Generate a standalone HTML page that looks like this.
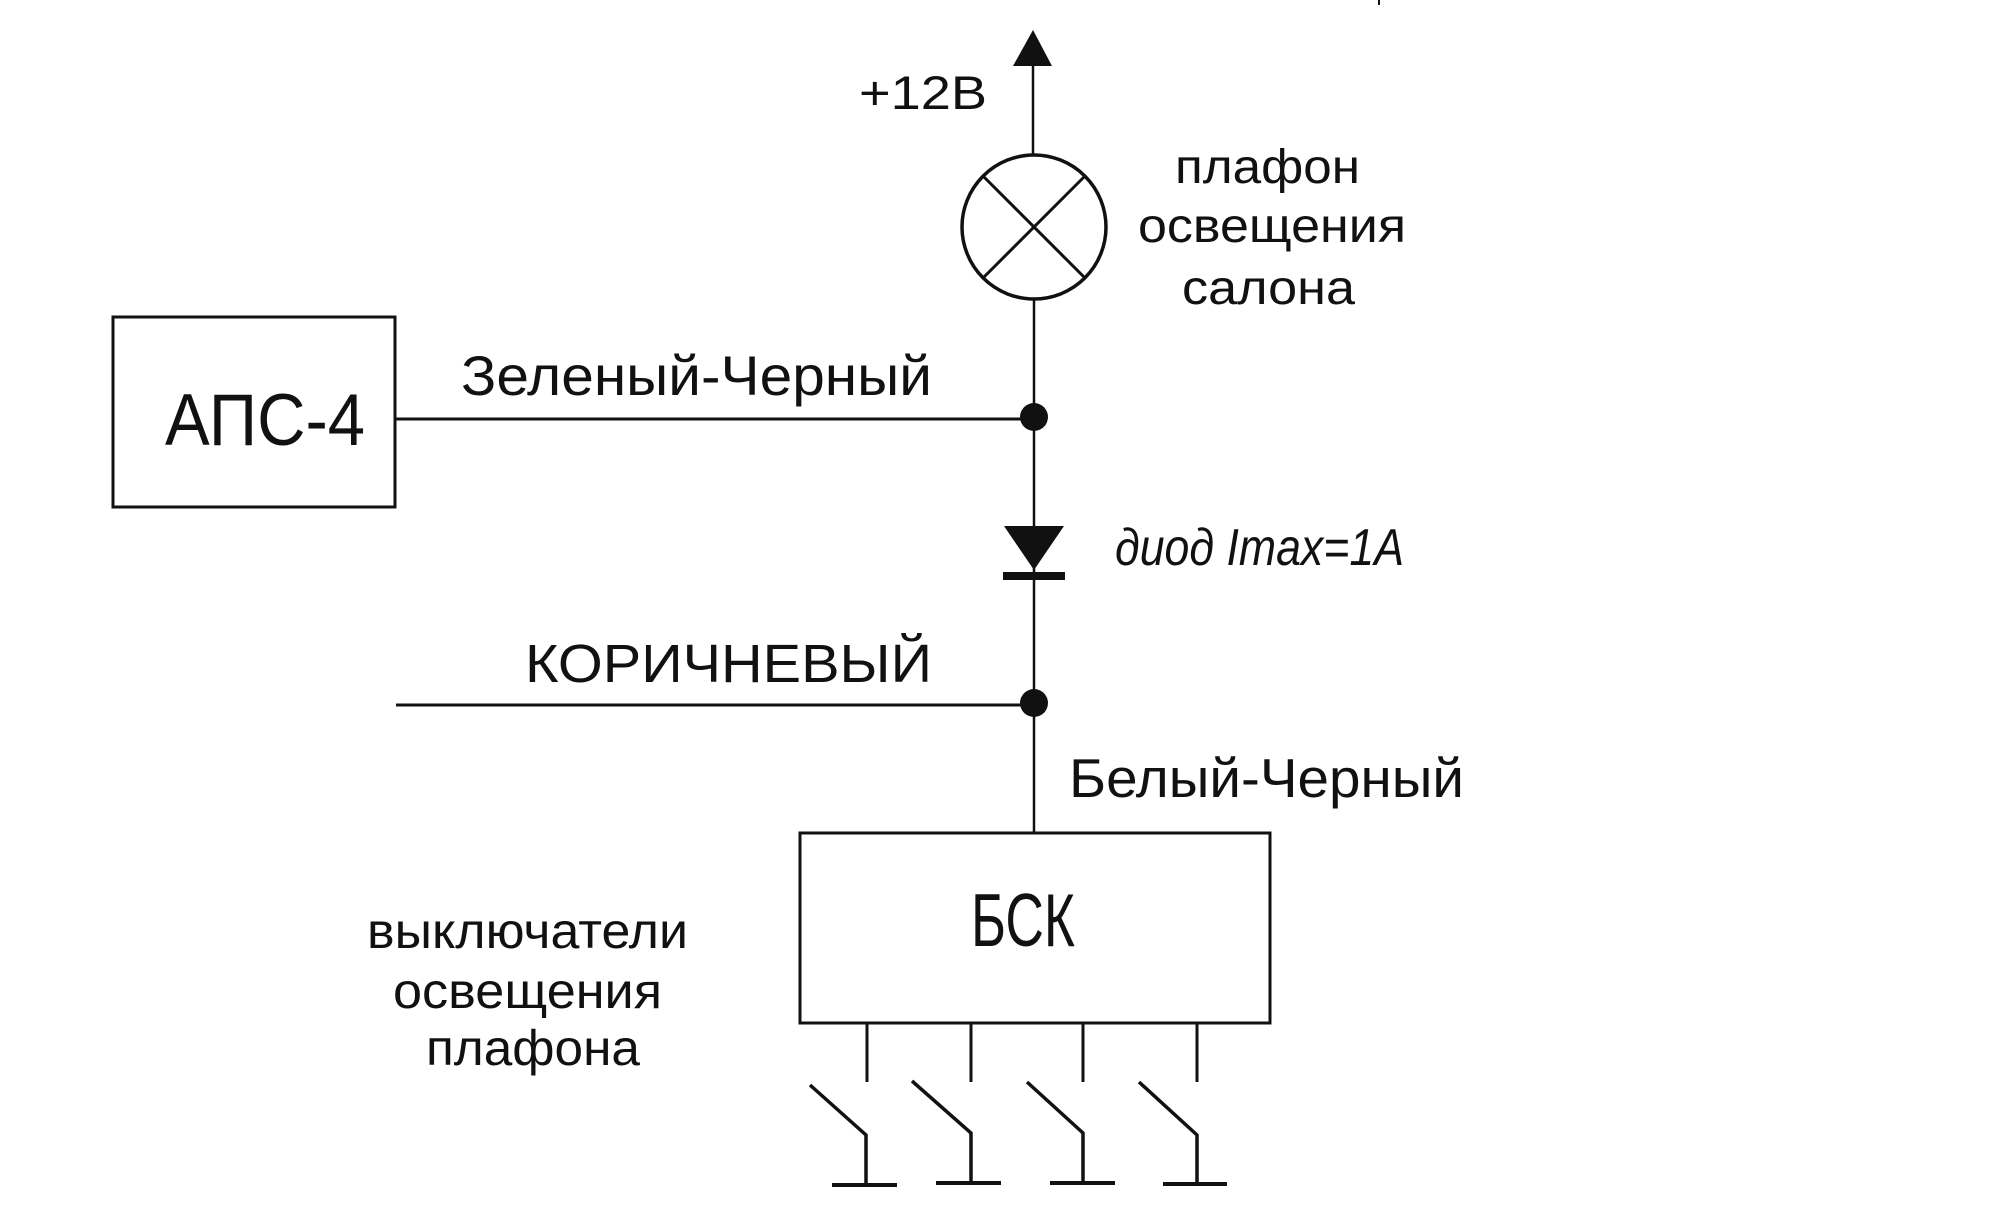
<!DOCTYPE html>
<html>
<head>
<meta charset="utf-8">
<style>
  html, body { margin: 0; padding: 0; background: #ffffff; }
  body { width: 1990px; height: 1224px; overflow: hidden; }
  svg { display: block; }
  text { font-family: "Liberation Sans", "DejaVu Sans", sans-serif; fill: #111; }
</style>
</head>
<body>
<svg width="1990" height="1224" viewBox="0 0 1990 1224" xmlns="http://www.w3.org/2000/svg">
  <rect x="0" y="0" width="1990" height="1224" fill="#fff"/>

  <g stroke="#111" fill="none" stroke-linecap="butt">
    <!-- +12V arrow wire -->
    <line x1="1033" y1="64" x2="1033" y2="156" stroke-width="2.5"/>
    <!-- lamp -->
    <circle cx="1034" cy="227" r="72" stroke-width="3.5"/>
    <line x1="983" y1="176" x2="1085" y2="278" stroke-width="3"/>
    <line x1="1085" y1="176" x2="983" y2="278" stroke-width="3"/>
    <!-- main vertical wire -->
    <line x1="1034" y1="299" x2="1034" y2="834" stroke-width="2.5"/>
    <!-- horizontal wires -->
    <line x1="395" y1="419" x2="1034" y2="419" stroke-width="3"/>
    <line x1="396" y1="705" x2="1034" y2="705" stroke-width="3"/>
    <!-- boxes -->
    <rect x="113" y="317" width="282" height="190" stroke-width="3"/>
    <rect x="800" y="833" width="470" height="190" stroke-width="3"/>
    <!-- switch stubs -->
    <line x1="867" y1="1024" x2="867" y2="1082" stroke-width="3"/>
    <line x1="971" y1="1024" x2="971" y2="1082" stroke-width="3"/>
    <line x1="1083" y1="1024" x2="1083" y2="1082" stroke-width="3"/>
    <line x1="1197" y1="1024" x2="1197" y2="1082" stroke-width="3"/>
    <!-- switches -->
    <polyline points="810,1085 866,1135 866,1185" stroke-width="3.5"/>
    <line x1="832" y1="1185" x2="897" y2="1185" stroke-width="4"/>
    <polyline points="912,1081 971,1133 971,1184" stroke-width="3.5"/>
    <line x1="936" y1="1183" x2="1001" y2="1183" stroke-width="4"/>
    <polyline points="1027,1082 1083,1133 1083,1184" stroke-width="3.5"/>
    <line x1="1050" y1="1183" x2="1115" y2="1183" stroke-width="4"/>
    <polyline points="1139,1082 1197,1135 1197,1185" stroke-width="3.5"/>
    <line x1="1163" y1="1184" x2="1227" y2="1184" stroke-width="4"/>
  </g>

  <g fill="#111" stroke="none">
    <!-- arrow head -->
    <polygon points="1033,30 1013,66 1052,66"/>
    <!-- junction dots -->
    <circle cx="1034" cy="417" r="14"/>
    <circle cx="1034" cy="703" r="14"/>
    <!-- diode -->
    <polygon points="1004,526 1064,526 1034,570"/>
    <rect x="1003" y="572" width="62" height="8"/>
    <!-- tiny top mark -->
    <rect x="1378" y="0" width="2" height="5"/>
  </g>

  <!-- labels -->
  <text x="859" y="109" font-size="47" textLength="128" lengthAdjust="spacingAndGlyphs">+12В</text>

  <text x="1175" y="183" font-size="48" textLength="185" lengthAdjust="spacingAndGlyphs">плафон</text>
  <text x="1138" y="242" font-size="48" textLength="268" lengthAdjust="spacingAndGlyphs">освещения</text>
  <text x="1182" y="304" font-size="48" textLength="173" lengthAdjust="spacingAndGlyphs">салона</text>

  <text x="165" y="445" font-size="73" textLength="200" lengthAdjust="spacingAndGlyphs">АПС-4</text>

  <text x="461" y="395" font-size="56" textLength="471" lengthAdjust="spacingAndGlyphs">Зеленый-Черный</text>

  <text x="1115" y="565" font-size="52" font-style="italic" textLength="289" lengthAdjust="spacingAndGlyphs">диод Imax=1A</text>

  <text x="525" y="682" font-size="54" textLength="407" lengthAdjust="spacingAndGlyphs">КОРИЧНЕВЫЙ</text>

  <text x="1069" y="797" font-size="55" textLength="395" lengthAdjust="spacingAndGlyphs">Белый-Черный</text>

  <text x="971" y="946" font-size="75" textLength="104" lengthAdjust="spacingAndGlyphs">БСК</text>

  <text x="367" y="948" font-size="50" textLength="321" lengthAdjust="spacingAndGlyphs">выключатели</text>
  <text x="393" y="1008" font-size="50" textLength="269" lengthAdjust="spacingAndGlyphs">освещения</text>
  <text x="426" y="1065" font-size="50" textLength="214" lengthAdjust="spacingAndGlyphs">плафона</text>
</svg>
</body>
</html>
